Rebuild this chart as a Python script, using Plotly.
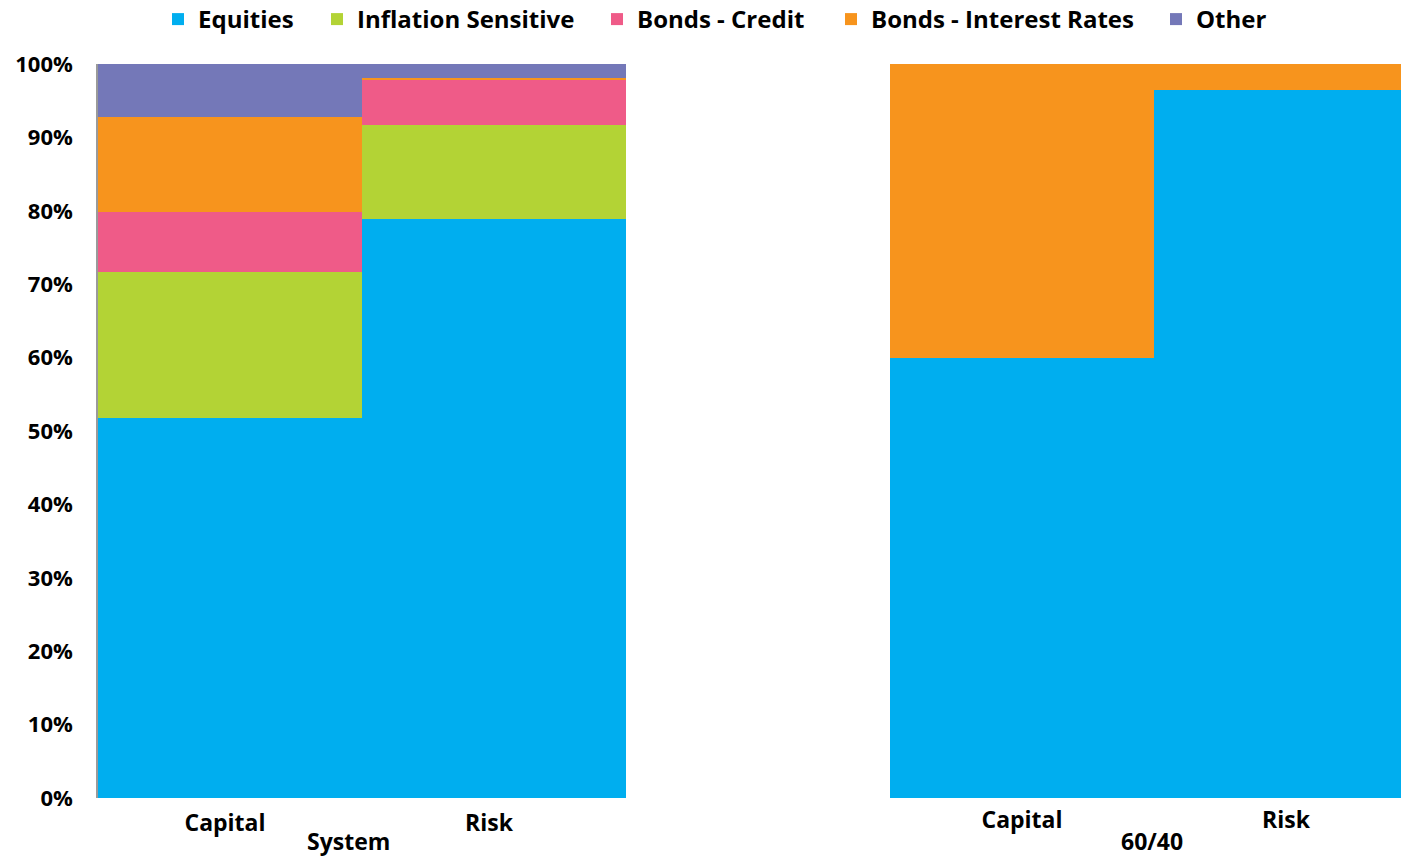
import plotly.graph_objects as go

categories = ["Capital", "Risk"]
portfolios = ["System", "60/40"]
series_names = ["Equities", "Inflation Sensitive", "Bonds - Credit", "Bonds - Interest Rates", "Other"]
colors = ["#00AEEF", "#B3D335", "#EF5B88", "#F7941D", "#7478B8"]

# System portfolio (Capital, Risk)
system_equities = [51.8, 78.9]
system_inflation = [19.9, 12.8]
system_credit = [8.1, 6.1]
system_rates = [13.0, 0.3]
system_other = [7.2, 1.9]

# 60/40 portfolio (Capital, Risk)
p6040_equities = [60.0, 96.5]
p6040_rates = [40.0, 3.5]

FONT = "Open Sans"
W, H = 1401, 856

# legend text start positions (px) in the reference
legend_text_x = [198, 357, 637, 871, 1196]

fig = go.Figure()

legend_ids = ["legend", "legend2", "legend3", "legend4", "legend5"]
system_vals = [system_equities, system_inflation, system_credit, system_rates, system_other]
for name, col, vals, lg in zip(series_names, colors, system_vals, legend_ids):
    fig.add_trace(go.Bar(x=categories, y=vals, name=name, marker=dict(color=col, line=dict(width=0)),
                         xaxis="x", yaxis="y", showlegend=True, legendgroup=name, legend=lg))

p6040_vals = {"Equities": p6040_equities, "Bonds - Interest Rates": p6040_rates}
for name, col in zip(series_names, colors):
    if name in p6040_vals:
        fig.add_trace(go.Bar(x=categories, y=p6040_vals[name], name=name, marker=dict(color=col, line=dict(width=0)),
                             xaxis="x2", yaxis="y2", showlegend=False, legendgroup=name))

legends = {}
for lg, tx in zip(legend_ids, legend_text_x):
    legends[lg] = dict(orientation="h", x=(tx - 40) / W, xanchor="left", yref="container",
                       y=1 - 19.5 / H, yanchor="middle", bgcolor="rgba(0,0,0,0)",
                       font=dict(family=FONT, size=24, color="black", weight="bold"))

# the right panel is cropped at the canvas edge in the reference
left_px = 626 - 98
right_start = 890
px_per_cat = left_px / 2
right_visible = (W - right_start) / px_per_cat

fig.update_layout(
    width=W, height=H,
    barmode="stack", bargap=0,
    paper_bgcolor="white", plot_bgcolor="white",
    margin=dict(l=0, r=0, t=64, b=H - 798),
    font=dict(family=FONT, size=21, color="black", weight="bold"),
    xaxis=dict(domain=[98 / W, 626 / W], anchor="y", showgrid=False, showline=False, ticks="",
               tickfont=dict(family=FONT, size=23, weight="bold"), ticklabelstandoff=9, ticklabelshift=-5),
    yaxis=dict(domain=[0, 1], anchor="x", range=[0, 100], dtick=10, ticksuffix="%", showgrid=False,
               showline=True, linecolor="#9a9a9a", linewidth=1.5, ticks="", zeroline=False,
               tickfont=dict(family=FONT, size=22, weight="bold"), ticklabelstandoff=19, automargin=False),
    xaxis2=dict(domain=[right_start / W, 1.0], anchor="y2", showgrid=False, showline=False, ticks="",
                range=[-0.5, -0.5 + right_visible],
                tickfont=dict(family=FONT, size=23, weight="bold"), ticklabelstandoff=6),
    yaxis2=dict(domain=[0, 1], anchor="x2", range=[0, 100], showgrid=False, showline=False,
                showticklabels=False, ticks="", zeroline=False),
    **legends,
)

for xr, label, xs, ys in zip(["x", "x2"], portfolios, [-14, -2], [-43, -43]):
    fig.add_annotation(x=0.5, xref=xr, y=0, yref="paper", yshift=ys, yanchor="middle",
                       text=label, showarrow=False, xshift=xs,
                       font=dict(family=FONT, size=23, color="black", weight="bold"))

fig.write_html("out.html", post_script="document.body.style.margin='0';",
               config={"displayModeBar": False})
